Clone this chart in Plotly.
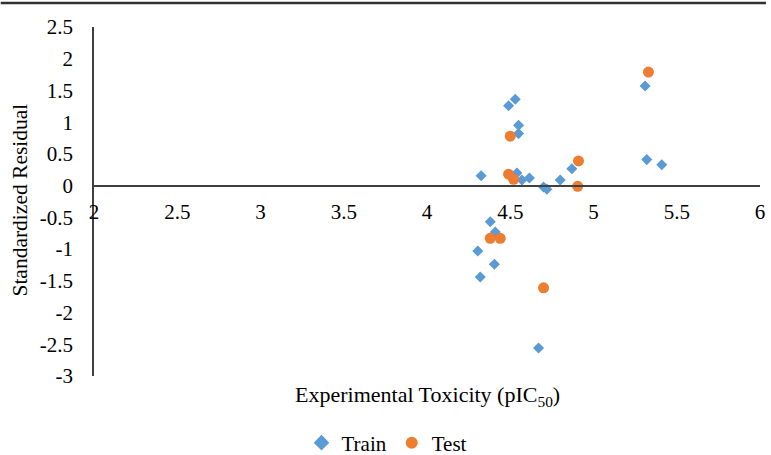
import plotly.graph_objects as go

train_x = [4.325, 4.49, 4.53, 4.55, 4.55, 4.54, 4.57, 4.615, 4.70, 4.72, 4.80, 4.87,
           5.31, 5.32, 5.41, 4.38, 4.41, 4.305, 4.405, 4.32, 4.67]
train_y = [0.155, 1.26, 1.36, 0.95, 0.82, 0.20, 0.09, 0.12, -0.02, -0.055, 0.09, 0.265,
           1.57, 0.41, 0.33, -0.57, -0.73, -1.03, -1.24, -1.44, -2.56]
test_x = [4.50, 4.49, 4.52, 4.91, 4.905, 5.33, 4.38, 4.44, 4.70]
test_y = [0.78, 0.18, 0.10, 0.39, -0.01, 1.79, -0.83, -0.83, -1.61]

x_ticks = [2, 2.5, 3, 3.5, 4, 4.5, 5, 5.5, 6]
y_ticks = [2.5, 2, 1.5, 1, 0.5, 0, -0.5, -1, -1.5, -2, -2.5, -3]

W, H = 771, 455
L, R, T, B = 94, 6, 27, 79
pw, ph = W - L - R, H - T - B
FONT = "Liberation Serif"

fig = go.Figure()
fig.add_trace(go.Scatter(x=train_x, y=train_y, mode="markers", name="Train",
                         marker=dict(symbol="diamond", size=8.5, color="#5B9BD5")))
fig.add_trace(go.Scatter(x=test_x, y=test_y, mode="markers", name="Test",
                         marker=dict(symbol="circle", size=11, color="#ED7D31")))

ymin, ymax = -3, 2.5
zero_pos = (0 - ymin) / (ymax - ymin)

fig.update_layout(
    width=W, height=H,
    margin=dict(l=L, r=R, t=T, b=B),
    plot_bgcolor="white", paper_bgcolor="white",
    font=dict(family=FONT, size=21, color="black"),
    showlegend=True,
    legend=dict(orientation="h", xref="container", yref="container",
                x=387 / W, xanchor="center", y=1 - 443 / H, yanchor="middle",
                font=dict(family=FONT, size=21), itemsizing="constant", itemwidth=30),
    xaxis=dict(range=[2, 6], tickvals=x_ticks, ticktext=[str(v) for v in x_ticks],
               showgrid=False, zeroline=False, showline=True, linecolor="#404040",
               linewidth=1.5, anchor="free", position=zero_pos, ticks="",
               ticklabelstandoff=7, tickfont=dict(family=FONT, size=21)),
    yaxis=dict(range=[ymin, ymax], tickvals=y_ticks, ticktext=[str(v) for v in y_ticks],
               showgrid=False, zeroline=False, showline=True, linecolor="#404040",
               linewidth=1.5, ticks="", ticklabelstandoff=15,
               tickfont=dict(family=FONT, size=21)),
    annotations=[
        dict(text="Experimental Toxicity (pIC<sub>50</sub>)", xref="paper", yref="paper",
             x=0.5, y=-(396 - (T + ph)) / ph, xanchor="center", yanchor="middle",
             showarrow=False, font=dict(family=FONT, size=22)),
        dict(text="Standardized Residual", xref="paper", yref="paper",
             x=-(L - 19) / pw, y=0.5 - (200 - (T + ph / 2)) / ph, xanchor="center",
             yanchor="middle", textangle=-90, showarrow=False,
             font=dict(family=FONT, size=21.5)),
    ],
    shapes=[dict(type="line", xref="paper", yref="paper", x0=-L / pw, x1=1 + R / pw,
                 y0=1 + (T - 3) / ph, y1=1 + (T - 3) / ph,
                 line=dict(color="#303030", width=2.5))],
)

fig.write_html("out.html")
